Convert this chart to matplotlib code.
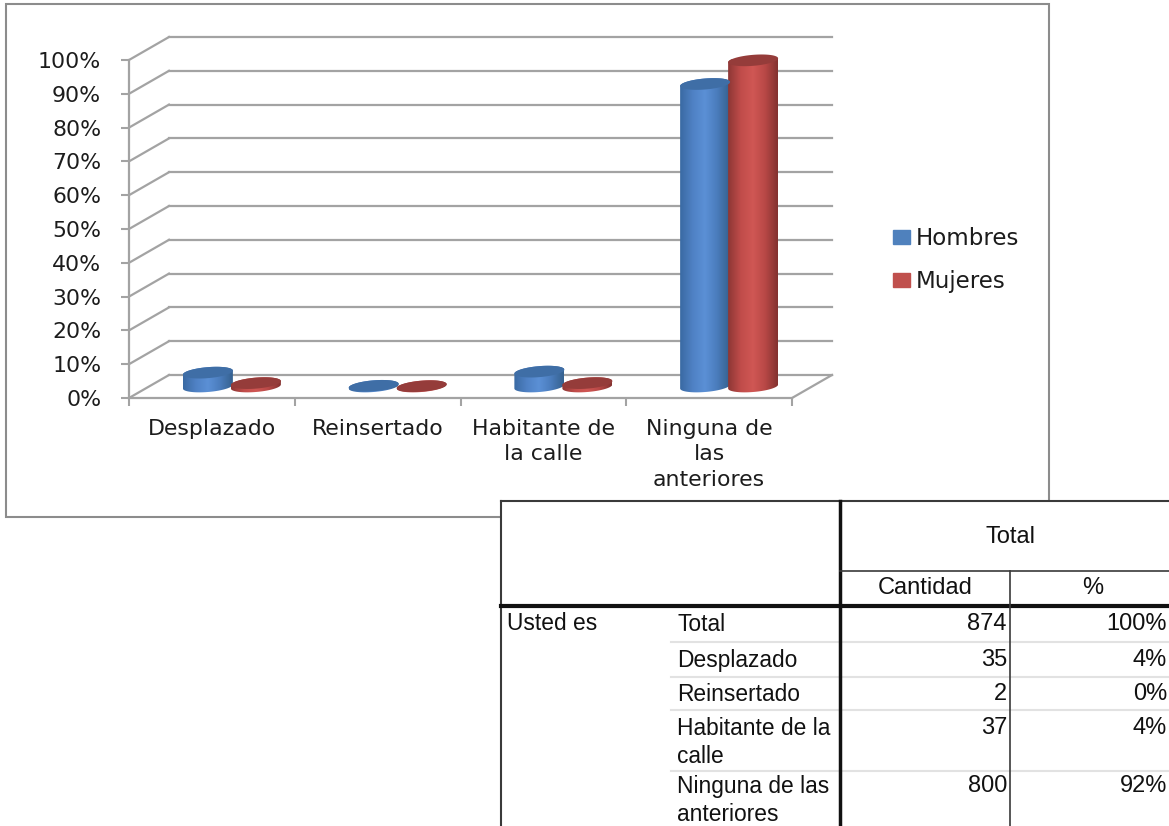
import numpy as np
import matplotlib.pyplot as plt
from matplotlib.colors import LinearSegmentedColormap
from matplotlib.patches import PathPatch, Rectangle
from matplotlib.path import Path

categories = ['Desplazado', 'Reinsertado', 'Habitante de\nla calle', 'Ninguna de\nlas\nanteriores']
hombres = [4.1, 0.2, 4.4, 89.5]
mujeres = [1.0, 0.1, 1.0, 96.5]
y_ticks = [0, 10, 20, 30, 40, 50, 60, 70, 80, 90, 100]

table_rows = ['Total', 'Desplazado', 'Reinsertado', 'Habitante de la\ncalle', 'Ninguna de las\nanteriores']
table_cantidad = ['874', '35', '2', '37', '800']
table_pct = ['100%', '4%', '0%', '4%', '92%']

W, H = 1169, 826
GRID = '#a3a3a3'
TEXT = '#1c1c1c'

fig = plt.figure(figsize=(W/100, H/100), dpi=100)
ax = fig.add_axes([129/W, 1 - 398/H, 663/W, 338/H])
ax.patch.set_alpha(0)

# pixel size in data units, the fake 3D depth is given in pixels
px_x = 4/663
px_y = 100/338
depth_x = 40*px_x
depth_y = 23*px_y

# back wall and floor
for v in y_ticks:
    ax.plot([depth_x, 4 + depth_x], [v + depth_y]*2, color=GRID, lw=1.6, clip_on=False, zorder=1)
    ax.plot([0, depth_x], [v, v + depth_y], color=GRID, lw=1.6, clip_on=False, zorder=1)
ax.plot([4, 4 + depth_x], [0, depth_y], color=GRID, lw=1.6, clip_on=False, zorder=1)

blue_map = LinearSegmentedColormap.from_list('b', ['#3a6aa3', '#4f81c4', '#5b90d6', '#4a7cbc', '#35618f'])
red_map = LinearSegmentedColormap.from_list('r', ['#8e3735', '#c04c4a', '#d05754', '#b84846', '#843230'])
shade = np.linspace(0, 1, 64).reshape(1, -1)


def cylinder(center, value, cmap, top_color):
    # cylinder standing in the middle of the floor depth
    a = 25*px_x
    b = 5.5*px_y
    tilt = 2*px_y
    base = depth_y/2
    top = value + base
    t = np.linspace(0, 2*np.pi, 80)
    low = np.linspace(np.pi, 2*np.pi, 40)
    high = np.linspace(0, np.pi, 40)
    outline = np.vstack([
        np.column_stack([center + a*np.cos(low), base + b*np.sin(low) + tilt*np.cos(low)]),
        np.column_stack([center + a*np.cos(high), top + b*np.sin(high) + tilt*np.cos(high)]),
    ])
    body = PathPatch(Path(np.vstack([outline, outline[0]])), fc='none', ec='none', transform=ax.transData)
    ax.add_patch(body)
    im = ax.imshow(shade, extent=[center - a, center + a, base - 2*b, top + 2*b], aspect='auto',
                   cmap=cmap, zorder=4, interpolation='bilinear')
    im.set_clip_path(body)
    im.set_clip_box(None)
    ax.fill(center + a*np.cos(t), top + b*np.sin(t) + tilt*np.cos(t), color=top_color, lw=0,
            zorder=4.5, clip_on=False)


for i in range(len(categories)):
    mid = i + 0.5 + depth_x/2
    cylinder(mid - 24*px_x, hombres[i], blue_map, '#3f6ea6')
    cylinder(mid + 24*px_x, mujeres[i], red_map, '#953c3a')

ax.set_xlim(0, 4)
ax.set_ylim(0, 100)

for side in ['top', 'right']:
    ax.spines[side].set_visible(False)
for side in ['left', 'bottom']:
    ax.spines[side].set_color(GRID)
    ax.spines[side].set_linewidth(1.6)

ax.set_yticks(y_ticks)
ax.set_yticklabels(['%d%%' % v for v in y_ticks], fontsize=15.8, color=TEXT)
ax.tick_params(axis='y', length=6, width=1.5, color=GRID, pad=14)
ax.set_xticks(range(5))
ax.set_xticklabels([])
ax.tick_params(axis='x', which='major', length=6, width=1.5, color=GRID)
ax.set_xticks(np.arange(4) + 0.5, minor=True)
ax.set_xticklabels(categories, minor=True, fontsize=15.8, color=TEXT, linespacing=1.35)
ax.tick_params(axis='x', which='minor', length=0, pad=15)

handles = [Rectangle((0, 0), 1, 1, color='#4f81bd'), Rectangle((0, 0), 1, 1, color='#c0504d')]
fig.legend(handles, ['Hombres', 'Mujeres'], loc='center left', bbox_to_anchor=(872/W, 1 - 260/H),
           frameon=False, fontsize=16.5, labelcolor=TEXT, handlelength=0.75, handleheight=0.57,
           handletextpad=0.26, labelspacing=0.88)

# overlay with pixel coordinates for the frame and the pasted table
tb = fig.add_axes([0, 0, 1, 1], zorder=5)
tb.set_xlim(0, W)
tb.set_ylim(H, 0)
tb.axis('off')
tb.patch.set_alpha(0)
tb.add_patch(Rectangle((6, 4), 1043, 513, fc='none', ec='#8c8c8c', lw=1.5))
tb.add_patch(Rectangle((500, 500), 669, 326, fc='white', ec='none', zorder=2))

row_lines = [642, 677, 710, 771]
for y in row_lines:
    tb.plot([671, 840], [y, y], color='#e2e2e2', lw=1.5, zorder=3)
    tb.plot([840, W], [y, y], color='#e2e2e2', lw=1.5, zorder=3)
tb.plot([501, W], [501, 501], color='#3a3a3a', lw=1.5, zorder=4)
tb.plot([501, 501], [501, H], color='#3a3a3a', lw=1.5, zorder=4)
tb.plot([501, W], [606, 606], color='#111111', lw=3, zorder=4)
tb.plot([840, 840], [501, H], color='#111111', lw=2.5, zorder=4)
tb.plot([840, W], [571, 571], color='#3a3a3a', lw=1.2, zorder=4)
tb.plot([1010, 1010], [571, H], color='#3a3a3a', lw=1.2, zorder=4)

font = dict(family='Liberation Sans', fontsize=17, color='#111111', zorder=5, clip_on=False)
label_font = dict(font, fontsize=16.4)
tb.text(1010, 537, 'Total', ha='center', va='center', **font)
tb.text(925, 588, 'Cantidad', ha='center', va='center', **font)
tb.text(1093, 588, '%', ha='center', va='center', **font)
tb.text(507, 624, 'Usted es', ha='left', va='center', **label_font)

row_y = [624, 660, 694, 728, 786]
for y, label, cant, pct in zip(row_y, table_rows, table_cantidad, table_pct):
    tb.text(677, y - 11, label, ha='left', va='top', linespacing=1.3, **label_font)
    tb.text(1007, y, cant, ha='right', va='center', **font)
    tb.text(1167, y, pct, ha='right', va='center', **font)

fig.savefig('out.png', dpi=100)
